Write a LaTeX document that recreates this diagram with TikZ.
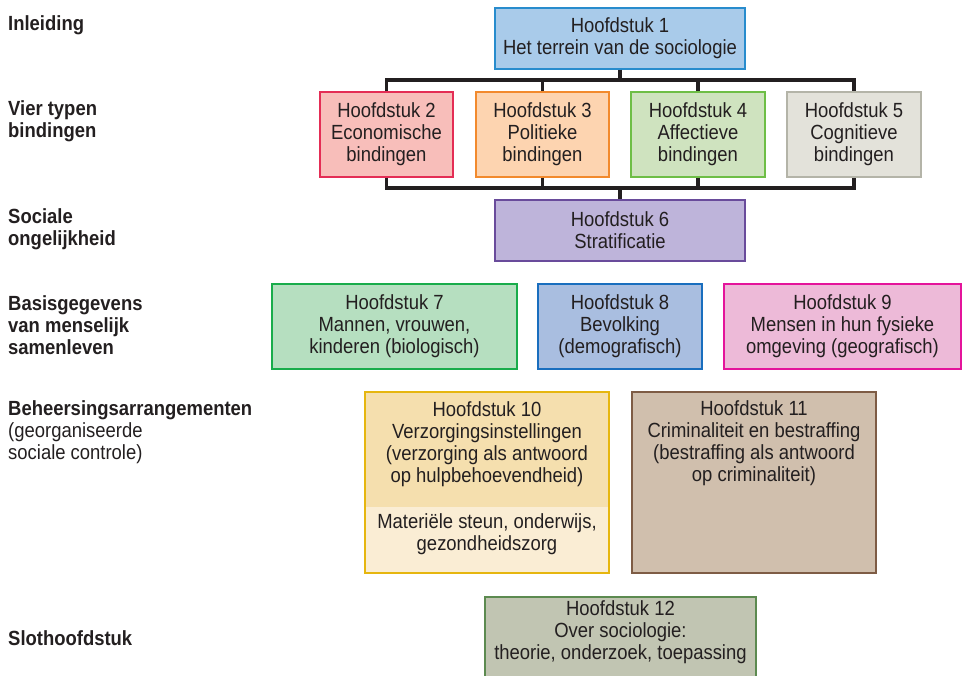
\documentclass[tikz,border=0pt]{standalone}
\usepackage{fontspec}
\setmainfont[FakeStretch=0.9]{Liberation Sans}
\usepackage{tikz}

\definecolor{fillA}{RGB}{169,203,234}\definecolor{lineA}{RGB}{40,140,205}
\definecolor{fillB}{RGB}{248,190,186}\definecolor{lineB}{RGB}{228,45,85}
\definecolor{fillC}{RGB}{253,212,176}\definecolor{lineC}{RGB}{242,138,45}
\definecolor{fillD}{RGB}{207,227,191}\definecolor{lineD}{RGB}{110,190,70}
\definecolor{fillE}{RGB}{227,226,218}\definecolor{lineE}{RGB}{180,180,168}
\definecolor{fillF}{RGB}{190,180,218}\definecolor{lineF}{RGB}{105,75,155}
\definecolor{fillG}{RGB}{182,223,192}\definecolor{lineG}{RGB}{25,172,75}
\definecolor{fillH}{RGB}{169,190,224}\definecolor{lineH}{RGB}{25,110,190}
\definecolor{fillI}{RGB}{237,186,216}\definecolor{lineI}{RGB}{228,20,155}
\definecolor{fillJ}{RGB}{245,223,174}\definecolor{fillJJ}{RGB}{250,237,212}\definecolor{lineJ}{RGB}{230,182,15}
\definecolor{fillK}{RGB}{208,191,173}\definecolor{lineK}{RGB}{126,92,69}
\definecolor{fillL}{RGB}{193,197,178}\definecolor{lineL}{RGB}{92,138,80}
\definecolor{ink}{RGB}{35,31,32}

\tikzset{
  chap/.style={draw, line width=1.1pt, align=center, inner sep=0pt, text=ink,
    font=\fontsize{20.5}{22}\selectfont},
  chaptext/.style={align=center, inner sep=0pt, text=ink, font=\fontsize{20.5}{22}\selectfont},
  part/.style={anchor=west, align=left, inner sep=0pt, text=ink, font=\fontsize{20.5}{22}\selectfont},
  link/.style={line width=3.4pt, draw=ink}
}

\begin{document}
\begin{tikzpicture}[x=1pt, y=-1pt]
%		\draw [help lines] (0,0) grid (962,676);
		\useasboundingbox (0,0) rectangle (962,676);
		\clip (0,0) rectangle (962,676);
		% left column
		\node [part] (inl) at (8,25) {\textbf{Inleiding}};
		\node [part] (vier) at (8,121) {\textbf{Vier typen}\\\textbf{bindingen}};
		\node [part] (soc) at (8,229) {\textbf{Sociale}\\\textbf{ongelijkheid}};
		\node [part] (basis) at (8,325) {\textbf{Basisgegevens}\\\textbf{van menselijk}\\\textbf{samenleven}};
		\node [part] (beh) at (8,432) {\textbf{Beheersingsarrangementen}\\(georganiseerde\\sociale controle)};
		\node [part] (slot) at (8,638) {\textbf{Slothoofdstuk}};
		% chapters
		\node [chap, fill=fillA, draw=lineA, minimum width=250, minimum height=61] (b1) at (620,38.5) {Hoofdstuk 1\\Het terrein van de sociologie};
		\node [chap, fill=fillB, draw=lineB, minimum width=133, minimum height=85] (b2) at (386.5,134.5) {Hoofdstuk 2\\Economische\\bindingen};
		\node [chap, fill=fillC, draw=lineC, minimum width=133, minimum height=85] (b3) at (542.5,134.5) {Hoofdstuk 3\\Politieke\\bindingen};
		\node [chap, fill=fillD, draw=lineD, minimum width=134, minimum height=85] (b4) at (698,134.5) {Hoofdstuk 4\\Affectieve\\bindingen};
		\node [chap, fill=fillE, draw=lineE, minimum width=134, minimum height=85] (b5) at (854,134.5) {Hoofdstuk 5\\Cognitieve\\bindingen};
		\node [chap, fill=fillF, draw=lineF, minimum width=250, minimum height=61] (b6) at (620,230.5) {Hoofdstuk 6\\Stratificatie};
		\node [chap, fill=fillG, draw=lineG, minimum width=245, minimum height=85] (b7) at (394.5,326.5) {Hoofdstuk 7\\Mannen, vrouwen,\\kinderen (biologisch)};
		\node [chap, fill=fillH, draw=lineH, minimum width=164, minimum height=85] (b8) at (620,326.5) {Hoofdstuk 8\\Bevolking\\(demografisch)};
		\node [chap, fill=fillI, draw=lineI, minimum width=237, minimum height=85] (b9) at (842.5,326.5) {Hoofdstuk 9\\Mensen in hun fysieke\\omgeving (geografisch)};
		\node [chap, fill=fillJ, draw=lineJ, line width=1.4pt, minimum width=244, minimum height=181] (b10) at (487,482.5) {};
		\coordinate (split) at (487,507);
		\fill [fillJJ] ([xshift=1.4pt]b10.west |- split) rectangle ([xshift=-1.4pt,yshift=1.4pt]b10.south east);
		\node [chaptext] (t10) at (487,444) {Hoofdstuk 10\\Verzorgingsinstellingen\\(verzorging als antwoord\\op hulpbehoevendheid)};
		\node [chaptext] (t10b) at (487,534) {Materiële steun, onderwijs,\\gezondheidszorg};
		\node [chap, fill=fillK, draw=lineK, minimum width=244, minimum height=181] (b11) at (754,482.5) {};
		\node [chaptext] (t11) at (754,443) {Hoofdstuk 11\\Criminaliteit en bestraffing\\(bestraffing als antwoord\\op criminaliteit)};
		\node [chap, fill=fillL, draw=lineL, minimum width=271, minimum height=120] (b12) at (620.5,657) {};
		\node [chaptext] (t12) at (620.5,632) {Hoofdstuk 12\\Over sociologie:\\theorie, onderzoek, toepassing};
		% connectors
		\coordinate (top) at (620,80);
		\coordinate (bot) at (620,188);
		\draw [link] (b1.south) -- (top);
		\draw [link] (b2.north) |- (top) -| (b5.north);
		\draw [link] (b3.north) -- (b3.north |- top);
		\draw [link] (b4.north) -- (b4.north |- top);
		\draw [link] (b2.south) |- (bot) -| (b5.south);
		\draw [link] (b3.south) -- (b3.south |- bot);
		\draw [link] (b4.south) -- (b4.south |- bot);
		\draw [link] (bot) -- (b6.north);
\end{tikzpicture}
\end{document}
